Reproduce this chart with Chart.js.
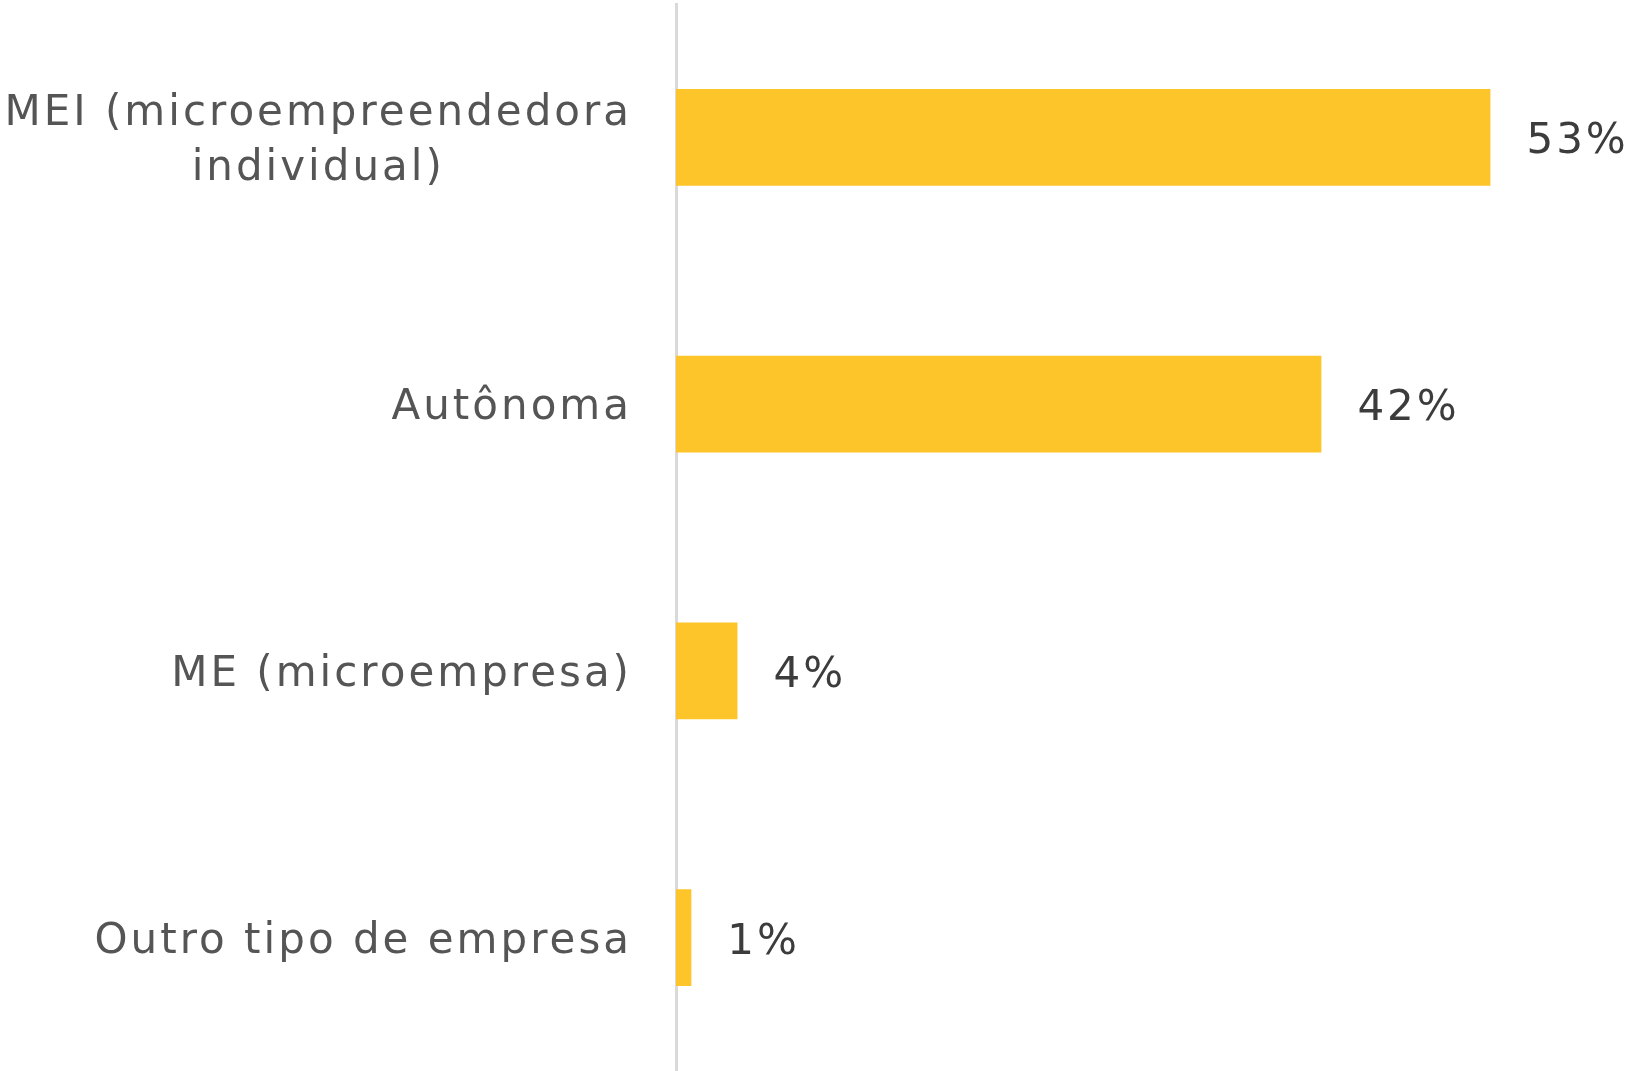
<!DOCTYPE html>
<html>
<head>
<meta charset="utf-8">
<script src="https://cdn.jsdelivr.net/npm/chart.js@4/dist/chart.umd.min.js"></script>
<style>
    html, body { margin: 0; padding: 0; background: #ffffff; }
    #wrap { width: 1641px; height: 1071px; position: relative; }
</style>
</head>
<body>
<div id="wrap"><canvas id="tipoChart"></canvas></div>
<script>
const categories = [
    ["MEI (microempreendedora", "individual)"],
    "Autônoma",
    "ME (microempresa)",
    "Outro tipo de empresa"
];
const percentValues = [53, 42, 4, 1];
const valueLabels = ["53%", "42%", "4%", "1%"];

const FONT = "'DejaVu Sans', Verdana, sans-serif";

// draws the category labels (multi-line centred inside a right-aligned block) and the % labels
const labelPlugin = {
    id: "labelPlugin",
    afterDatasetsDraw(chart) {
        const ctx = chart.ctx;
        const yScale = chart.scales.y;
        const meta = chart.getDatasetMeta(0);

        ctx.save();
        ctx.font = "42px " + FONT;
        ctx.letterSpacing = "3px";
        ctx.textBaseline = "middle";

        // category labels
        ctx.fillStyle = "#555555";
        const rightEdge = yScale.right - 44;
        categories.forEach((label, i) => {
            const lines = Array.isArray(label) ? label : [label];
            const widest = Math.max(...lines.map(l => ctx.measureText(l).width));
            const cx = rightEdge - widest / 2;
            const lineH = 55;
            const yc = yScale.getPixelForTick(i) + 4;
            ctx.textAlign = "center";
            lines.forEach((l, j) => {
                const y = yc + (j - (lines.length - 1) / 2) * lineH;
                ctx.fillText(l, cx, y);
            });
        });

        // value labels
        ctx.fillStyle = "#3c3c3c";
        ctx.textAlign = "left";
        meta.data.forEach((bar, i) => {
            ctx.fillText(valueLabels[i], bar.x + 36, bar.y + 5);
        });
        ctx.restore();
    }
};

function renderTipoChart() {
    const ctx = document.getElementById("tipoChart");

    new Chart(ctx, {
        type: "bar",
        data: {
            labels: categories,
            datasets: [{
                data: percentValues,
                backgroundColor: "#FEC52A",
                categoryPercentage: 1,
                barPercentage: 0.363
            }]
        },
        options: {
            indexAxis: "y",
            responsive: true,
            maintainAspectRatio: false,
            animation: false,
            layout: {
                padding: { top: 4, right: 0, bottom: 0, left: 0 }
            },
            plugins: {
                legend: { display: false },
                tooltip: { enabled: false }
            },
            scales: {
                x: {
                    display: false,
                    min: 0,
                    max: 62.8
                },
                y: {
                    grid: { display: false },
                    border: { display: true, color: "#d9d9d9", width: 3 },
                    ticks: { display: false },
                    afterFit(scale) {
                        scale.width = 676;
                    }
                }
            }
        },
        plugins: [labelPlugin]
    });
}

renderTipoChart();
</script>
</body>
</html>
